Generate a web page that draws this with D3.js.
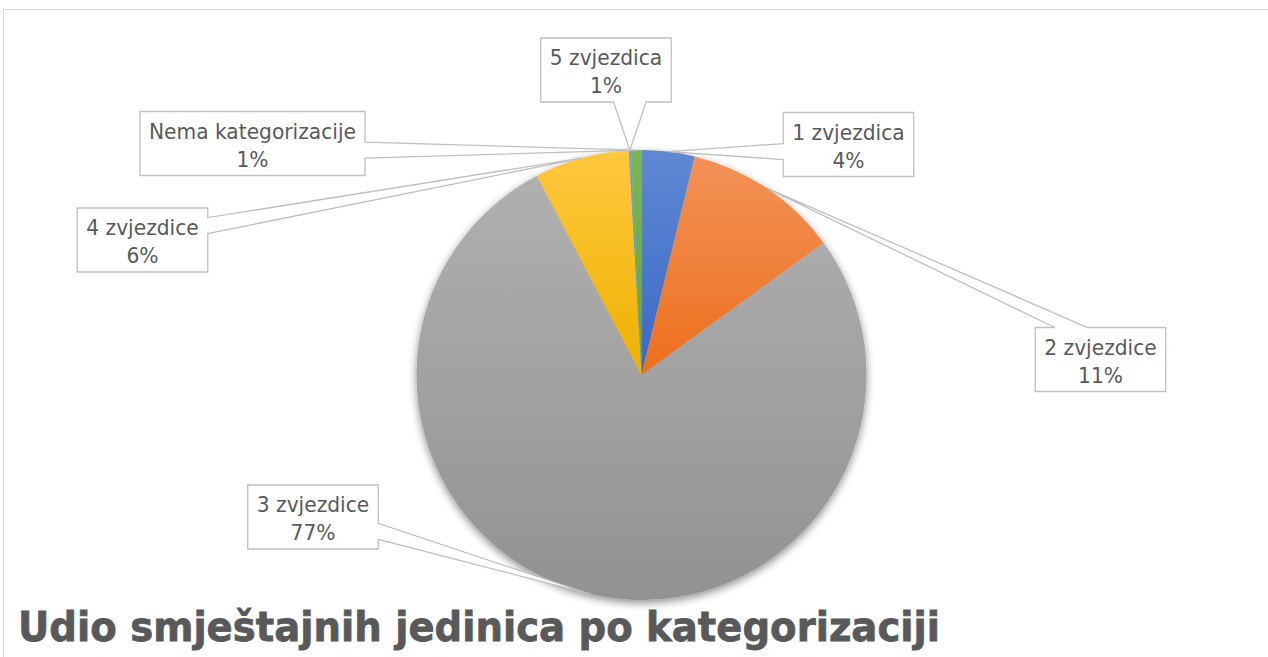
<!DOCTYPE html>
<html>
<head>
<meta charset="utf-8">
<script src="https://cdn.jsdelivr.net/npm/d3@7"></script>
<style>
  html, body { margin: 0; padding: 0; background: #ffffff; }
  svg { display: block; }
</style>
</head>
<body>
<svg id="chart" width="1268" height="657"></svg>
<script>
// ---- data ----
const categories = ["1 zvjezdica", "2 zvjezdice", "3 zvjezdice", "4 zvjezdice", "5 zvjezdica", "Nema kategorizacije"];
const shares = [3.8, 11.2, 77.3, 6.8, 0.15, 0.75];
const percentLabels = ["4%", "11%", "77%", "6%", "1%", "1%"];
const chartTitle = "Udio smještajnih jedinica po kategorizaciji";

// ---- styles / layout ----
const sliceColors = [
  ["#5f89d4", "#3a67c6"],
  ["#f39257", "#ec6f1c"],
  ["#b0b0b0", "#929292"],
  ["#ffc83e", "#eeb100"],
  ["#6aa6dc", "#4d8fcc"],
  ["#7bb656", "#62a33a"]
];
const labelCenters = [[848.5, 144.5], [1100.5, 359.5], [313, 517], [142.5, 240], [606, 70], [252.5, 143.5]];
const W = 1268, H = 657;
const cx = 641.5, cy = 375, R = 225;

const svg = d3.select("#chart");
const defs = svg.append("defs");

// chart area border
svg.append("rect")
  .attr("x", 3.5).attr("y", 9.5).attr("width", 1400).attr("height", 800)
  .attr("fill", "#ffffff").attr("stroke", "#d9d9d9").attr("stroke-width", 1);

// shadow filter
const f = defs.append("filter").attr("id", "shadow")
  .attr("x", "-10%").attr("y", "-10%").attr("width", "120%").attr("height", "125%");
f.append("feGaussianBlur").attr("in", "SourceAlpha").attr("stdDeviation", 4).attr("result", "blur");
f.append("feOffset").attr("in", "blur").attr("dx", 0).attr("dy", 3).attr("result", "off");
f.append("feComponentTransfer").attr("in", "off").attr("result", "offA")
  .append("feFuncA").attr("type", "linear").attr("slope", 0.45);
const fm = f.append("feMerge");
fm.append("feMergeNode").attr("in", "offA");
fm.append("feMergeNode").attr("in", "SourceGraphic");

// gradients
sliceColors.forEach((c, i) => {
  const g = defs.append("linearGradient").attr("id", "grad" + i)
    .attr("x1", 0).attr("y1", 0).attr("x2", 0).attr("y2", 1);
  g.append("stop").attr("offset", "0%").attr("stop-color", c[0]);
  g.append("stop").attr("offset", "100%").attr("stop-color", c[1]);
});

const data = categories.map((c, i) => ({ name: c, value: shares[i], pct: percentLabels[i], idx: i }));
const pie = d3.pie().sort(null).value(d => d.value).startAngle(0).endAngle(2 * Math.PI);
const arcs = pie(data);
const arc = d3.arc().innerRadius(0).outerRadius(R);
const edgeArc = d3.arc().innerRadius(R).outerRadius(R);

const pieG = svg.append("g").attr("transform", `translate(${cx},${cy})`).attr("filter", "url(#shadow)");
pieG.selectAll("path").data(arcs).enter().append("path")
  .attr("d", arc)
  .attr("fill", d => `url(#grad${d.data.idx})`);

// callouts
const fontSize = 21.5;
const calloutG = svg.append("g");
const measure = svg.append("text").attr("font-family", "DejaVu Sans").attr("font-size", fontSize).attr("visibility", "hidden");
function textW(s) { measure.text(s); return measure.node().getComputedTextLength(); }
const squeeze = 0.94;

arcs.forEach((a, i) => {
  const [bx, by] = labelCenters[i];
  const c = edgeArc.centroid(a);
  const tx = cx + c[0], ty = cy + c[1];
  const w1 = textW(a.data.name) * squeeze, w2 = textW(a.data.pct) * squeeze;
  const bw = Math.max(w1, w2) + 18, bh = 64;
  const L = bx - bw / 2, Rt = bx + bw / 2, T = by - bh / 2, B = by + bh / 2;
  const ndx = (tx - bx) / bw, ndy = (ty - by) / bh;
  let side;
  if (Math.abs(ndx) > Math.abs(ndy)) side = ndx > 0 ? "right" : "left";
  else side = ndy > 0 ? "bottom" : "top";
  function basePts(start, end, proj) {
    const len = end - start;
    const c0 = Math.max(start + 0.275 * len, Math.min(end - 0.275 * len, proj));
    return [c0 - 0.125 * len, c0 + 0.125 * len];
  }
  let pts = [];
  pts.push([L, T]);
  if (side === "top") { const [p, q] = basePts(L, Rt, tx); pts.push([p, T], [tx, ty], [q, T]); }
  pts.push([Rt, T]);
  if (side === "right") { const [p, q] = basePts(T, B, ty); pts.push([Rt, p], [tx, ty], [Rt, q]); }
  pts.push([Rt, B]);
  if (side === "bottom") { const [p, q] = basePts(L, Rt, tx); pts.push([q, B], [tx, ty], [p, B]); }
  pts.push([L, B]);
  if (side === "left") { const [p, q] = basePts(T, B, ty); pts.push([L, q], [tx, ty], [L, p]); }
  calloutG.append("path")
    .attr("d", "M" + pts.map(p => p[0] + "," + p[1]).join("L") + "Z")
    .attr("fill", "#ffffff").attr("stroke", "#bfbfbf").attr("stroke-width", 1.3)
    .attr("stroke-linejoin", "miter");
  const t = calloutG.append("text")
    .attr("font-family", "DejaVu Sans").attr("font-size", fontSize)
    .attr("fill", "#595959").attr("text-anchor", "middle");
  t.append("tspan").attr("x", bx).attr("y", by - 5).attr("textLength", w1).attr("lengthAdjust", "spacingAndGlyphs").text(a.data.name);
  t.append("tspan").attr("x", bx).attr("y", by + 23).attr("textLength", w2).attr("lengthAdjust", "spacingAndGlyphs").text(a.data.pct);
});
measure.remove();

// title
svg.append("text")
  .attr("x", 18).attr("y", 641)
  .attr("font-family", "DejaVu Sans").attr("font-weight", "bold").attr("font-size", 41)
  .attr("fill", "#595959").attr("stroke", "#595959").attr("stroke-width", 0.8)
  .attr("textLength", 922).attr("lengthAdjust", "spacingAndGlyphs")
  .text(chartTitle);
</script>
</body>
</html>
